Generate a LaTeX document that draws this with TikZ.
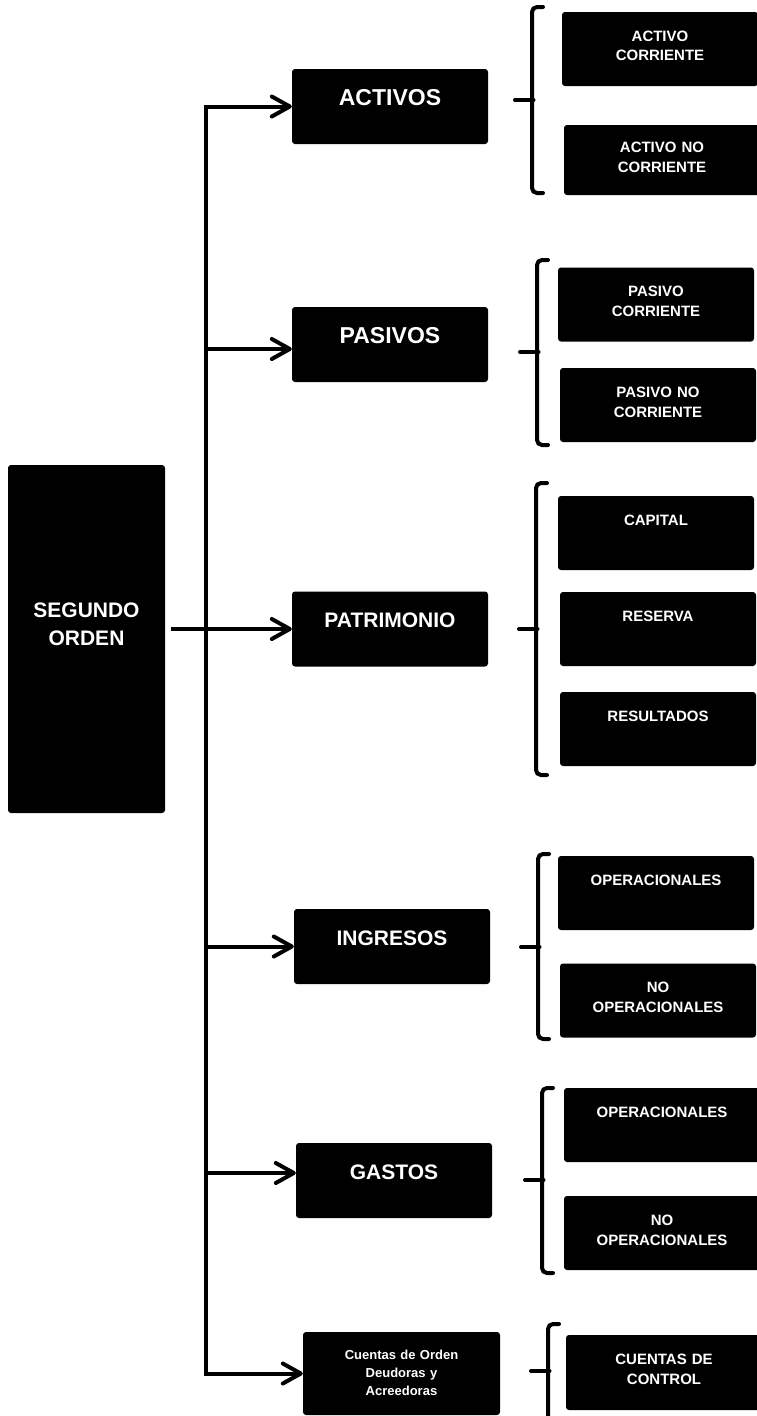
\documentclass[tikz,border=0pt]{standalone}
\usepackage{fontspec}
\setmainfont{Liberation Sans}
\usetikzlibrary{arrows.meta}

% llave: x, arriba, medio, abajo
\newcommand{\llave}[4]{
\draw[llave] (#1+11,#2) -- (#1,#2) -- (#1,#4) -- (#1+11,#4);
\draw[llave, rounded corners=0pt] (#1+1.5,#3) -- (#1-17,#3);
}

\begin{document}
\begin{tikzpicture}[x=1pt, y=-1pt, >={Straight Barb[length=18pt,width=20pt,round]},
                    every edge/.style={draw,line width=4pt},
                    caja/.style={fill=black, rounded corners=3pt, text=white, align=center, inner sep=0pt},
                    cat/.style={caja, minimum width=196pt, minimum height=75pt, text width=186pt,
                                text height=16pt, text depth=19pt, font=\fontsize{21}{25}\selectfont\bfseries},
                    hoja/.style={caja, minimum width=196pt, minimum height=74pt, text width=186pt,
                                 text height=12pt, text depth=28pt, font=\fontsize{15}{20}\selectfont\bfseries},
                    llave/.style={line width=4pt, rounded corners=5pt, line cap=round}]

\useasboundingbox (0,0) rectangle (756,1416);

\node[caja, minimum width=157pt, minimum height=348pt, text width=150pt, text height=15pt, text depth=58pt,
      font=\fontsize{21}{28}\selectfont\bfseries] (seg) at (86.5,639) {SEGUNDO\\ORDEN};

\node[cat, font=\fontsize{23}{27}\selectfont\bfseries] (act) at (390,106.5) {ACTIVOS};
\node[cat, font=\fontsize{23}{27}\selectfont\bfseries] (pas) at (390,344.5) {PASIVOS};
\node[cat] (pat) at (390,629) {PATRIMONIO};
\node[cat] (ing) at (392,946.5) {INGRESOS};
\node[cat] (gas) at (394,1180.5) {GASTOS};
\node[caja, minimum width=197pt, minimum height=83pt, text width=187pt, text height=12pt, text depth=41pt,
      font=\fontsize{13}{18}\selectfont\bfseries] (cta) at (401.5,1373.5) {Cuentas de Orden\\Deudoras y\\Acreedoras};

\node[hoja] (ac) at (660,49) {ACTIVO\\CORRIENTE};
\node[hoja, minimum height=70pt] (anc) at (662,160) {ACTIVO NO\\CORRIENTE};
\node[hoja] (pc) at (656,304.5) {PASIVO\\CORRIENTE};
\node[hoja] (pnc) at (658,405) {PASIVO NO\\CORRIENTE};
\node[hoja] (cap) at (656,533) {CAPITAL};
\node[hoja] (res) at (658,629) {RESERVA};
\node[hoja] (rlt) at (658,729) {RESULTADOS};
\node[hoja] (iop) at (656,893) {OPERACIONALES};
\node[hoja] (inop) at (658,1000.5) {NO\\OPERACIONALES};
\node[hoja] (gop) at (662,1125) {OPERACIONALES};
\node[hoja] (gnop) at (662,1233) {NO\\OPERACIONALES};
\node[hoja, minimum height=75pt] (cc) at (664,1372.5) {CUENTAS DE\\CONTROL};

\coordinate (tr) at (206,0);
\coordinate (pasin) at ([yshift=-4.5pt]pas.west);
\coordinate (gasin) at ([yshift=7.5pt]gas.west);
\draw[<->, line width=4pt] (act.west) -| (tr |- cta.west) -- (cta.west);

\path[->]
(tr |- pasin) edge (pasin)
(seg.east |- pat.west) edge[shorten <=6pt] (pat.west)
(tr |- ing.west) edge (ing.west)
(tr |- gasin) edge (gasin);

\llave{532}{7}{100}{193}
\llave{537}{260}{352}{445}
\llave{536}{483}{629}{775}
\llave{538}{854}{947}{1039}
\llave{542}{1088}{1180}{1273}
\llave{548}{1324}{1371}{1440}
\end{tikzpicture}
\end{document}
